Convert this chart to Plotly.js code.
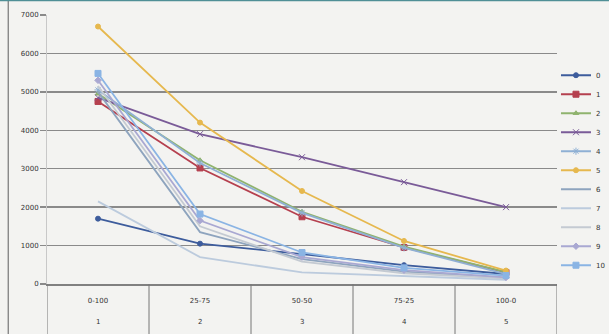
<!DOCTYPE html>
<html>
<head>
<meta charset="utf-8">
<script src="https://cdn.plot.ly/plotly-3.0.1.min.js"></script>
<style>
  html, body { margin: 0; padding: 0; background: #f3f3f1; }
  #chart { width: 609px; height: 334px; }
</style>
</head>
<body>
<div id="chart"></div>
<script>
// Mix ratios (first label row) and step numbers (second label row)
const ratios = ["0-100", "25-75", "50-50", "75-25", "100-0"];
const steps = ["1", "2", "3", "4", "5"];

const seriesNames = ["0", "1", "2", "3", "4", "5", "6", "7", "8", "9", "10"];
const s0 = [1700, 1050, 780, 490, 260];
const s1 = [4750, 3020, 1750, 950, 300];
const s2 = [4950, 3220, 1880, 970, 310];
const s3 = [4850, 3900, 3300, 2650, 2000];
const s4 = [5050, 3150, 1850, 940, 260];
const s5 = [6700, 4200, 2420, 1120, 350];
const s6 = [5000, 1350, 650, 320, 160];
const s7 = [2150, 700, 300, 200, 110];
const s8 = [5150, 1500, 580, 280, 150];
const s9 = [5300, 1650, 700, 360, 170];
const s10 = [5480, 1820, 820, 420, 220];

const values = [s0, s1, s2, s3, s4, s5, s6, s7, s8, s9, s10];

const colors = ["#3d5c9c", "#b5404f", "#8fb36e", "#7a5b98", "#8fb0d4", "#e6b84e",
                "#8ea4be", "#bccbdd", "#c4cad2", "#a9a8d2", "#8ab4e4"];
const symbols = ["circle", "square", "triangle-up", "x-thin-open", "asterisk-open", "circle",
                 "line-ew-open", "line-ew-open", "line-ew-open", "diamond", "square"];
const msizes = [5, 6, 5, 6, 6, 5, 0, 0, 0, 5, 6];

const traces = values.map((v, i) => ({
  type: "scatter",
  mode: msizes[i] ? "lines+markers" : "lines",
  name: seriesNames[i],
  x: ratios,
  y: v,
  line: { color: colors[i], width: 1.8 },
  marker: { symbol: symbols[i], size: msizes[i], color: colors[i],
            line: { color: colors[i], width: 1 } }
}));

// second label row: step numbers under each ratio
const stepLabels = steps.map((s, i) => ({
  x: ratios[i], xref: "x", y: -0.142, yref: "paper", yanchor: "middle",
  text: s, showarrow: false, font: { size: 7, color: "#333" }
}));

// cell dividers of the two-row category band
const dividers = [];
for (let k = 0; k <= ratios.length; k++) {
  dividers.push({ type: "line", xref: "x", yref: "paper",
    x0: k - 0.5, x1: k - 0.5, y0: 0, y1: -0.19,
    line: { color: "#777", width: 1 } });
}

const layout = {
  width: 609,
  height: 334,
  margin: { l: 47, r: 52, t: 15, b: 50, autoexpand: false },
  paper_bgcolor: "#f3f3f1",
  plot_bgcolor: "#f3f3f1",
  font: { family: "DejaVu Sans, sans-serif", size: 7, color: "#333" },
  showlegend: true,
  legend: {
    x: 0.998, xanchor: "left", y: 0.83, yanchor: "top",
    font: { size: 7, color: "#333" },
    bgcolor: "rgba(0,0,0,0)",
    itemwidth: 30,
    tracegroupgap: 0
  },
  xaxis: {
    type: "category",
    range: [-0.5, 4.5],
    showgrid: false,
    showline: true,
    linecolor: "#808080",
    linewidth: 1.5,
    ticks: "",
    ticklabelstandoff: 9,
    tickfont: { size: 7, color: "#333" }
  },
  yaxis: {
    range: [0, 7000],
    dtick: 1000,
    showgrid: true,
    gridcolor: "#8a8a8a",
    gridwidth: 1.5,
    showline: true,
    linecolor: "#c8c8c8",
    ticks: "outside",
    ticklen: 6,
    tickcolor: "#8a8a8a",
    tickwidth: 1.5,
    zeroline: false,
    tickfont: { size: 7, color: "#333" }
  },
  annotations: stepLabels,
  shapes: dividers.concat([
    { type: "line", xref: "paper", yref: "paper", x0: -0.076, x1: -0.076, y0: -0.2, y1: 1.06,
      line: { color: "#777", width: 1.2 } },
    { type: "rect", xref: "paper", yref: "paper", x0: -0.1, x1: 1.2, y0: 1.051, y1: 1.06,
      line: { width: 0 }, fillcolor: "#4f8f96" }
  ])
};

Plotly.newPlot("chart", traces, layout, { displayModeBar: false, staticPlot: true });
</script>
</body>
</html>
